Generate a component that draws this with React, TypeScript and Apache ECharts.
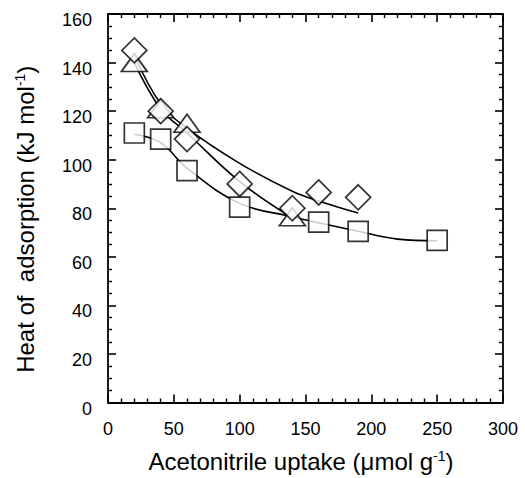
import React, { useEffect, useRef } from "react";
import * as echarts from "echarts";

// Measured points
const diamondX = [20, 40, 60, 100, 140, 160, 190];
const diamondY = [145, 120, 108.5, 90, 80, 86.5, 84.5];
const triangleX = [20, 40, 60, 140];
const triangleY = [140, 121, 115, 76.5];
const squareX = [20, 40, 60, 100, 160, 190, 250];
const squareY = [111, 108.5, 95.5, 80.5, 74.3, 70.5, 66.8];

// Fitted curves
const diamondFitX = [20, 40, 60, 100, 140, 160, 190];
const diamondFitY = [143, 123, 113, 98.5, 87, 83, 78];
const triangleFitX = [20, 40, 60, 100, 140];
const triangleFitY = [140, 121, 111, 91, 76];
const squareFitX = [20, 40, 60, 100, 140, 160, 190, 220, 250];
const squareFitY = [110.5, 107, 96.5, 82, 76.5, 74, 70.5, 67.3, 66.6];

const xTicks = [0, 50, 100, 150, 200, 250, 300];
const yTicks = [0, 20, 40, 60, 80, 100, 120, 140, 160];

const zip = (xs: number[], ys: number[]) => xs.map((x, i) => [x, ys[i]]);

const FONT = "Liberation Sans";

export default function App() {
  const ref = useRef<HTMLDivElement>(null);
  useEffect(() => {
    if (!ref.current) return;
    const chart = echarts.init(ref.current, null, { renderer: "svg" });
    const axisLine = { show: true, onZero: false, lineStyle: { color: "#000", width: 1.8 } };
    const tick = { show: true, inside: true, length: 8, lineStyle: { color: "#000", width: 1.6 } };
    const minor = { show: true, length: 4, lineStyle: { color: "#000", width: 1.4 } };
    const lineStyle = { color: "#000", width: 1.6 };
    const markerStyle = { color: "#fff", borderColor: "#000", borderWidth: 1.7 };
    const sup = { fontFamily: FONT, fontSize: 14, verticalAlign: "top", padding: [0, 0, 11, 0] };
    chart.setOption({
      animation: false,
      backgroundColor: "#fff",
      grid: { left: 108, top: 14, right: 22, bottom: 74 },
      xAxis: [
        {
          type: "value",
          min: xTicks[0],
          max: xTicks[xTicks.length - 1],
          interval: 50,
          axisLine,
          axisTick: tick,
          minorTick: { ...minor, splitNumber: 5 },
          splitLine: { show: false },
          axisLabel: { color: "#000", fontFamily: FONT, fontSize: 18, margin: 17 },
          name: "Acetonitrile uptake (\u03bcmol g{sup|-1})",
          nameLocation: "middle",
          nameGap: 46,
          nameTextStyle: { color: "#000", fontFamily: FONT, fontSize: 24, padding: [0, 9, 0, 0], rich: { sup } },
        },
        {
          type: "value",
          position: "top",
          min: xTicks[0],
          max: xTicks[xTicks.length - 1],
          interval: 50,
          axisLine,
          axisTick: tick,
          minorTick: { ...minor, splitNumber: 5 },
          splitLine: { show: false },
          axisLabel: { show: false },
        },
      ],
      yAxis: [
        {
          type: "value",
          min: yTicks[0],
          max: yTicks[yTicks.length - 1],
          interval: 20,
          axisLine,
          axisTick: tick,
          minorTick: { ...minor, splitNumber: 4 },
          splitLine: { show: false },
          axisLabel: { color: "#000", fontFamily: FONT, fontSize: 18, margin: 16, verticalAlign: "top", lineHeight: 12 },
          name: "Heat of  adsorption (kJ mol{sup|-1})",
          nameLocation: "middle",
          nameGap: 70,
          nameRotate: 90,
          nameTextStyle: { color: "#000", fontFamily: FONT, fontSize: 24, padding: [0, 22, 0, 0], rich: { sup } },
        },
        {
          type: "value",
          position: "right",
          min: yTicks[0],
          max: yTicks[yTicks.length - 1],
          interval: 20,
          axisLine,
          axisTick: tick,
          minorTick: { ...minor, splitNumber: 4 },
          splitLine: { show: false },
          axisLabel: { show: false },
        },
      ],
      series: [
        { type: "line", data: zip(squareFitX, squareFitY), smooth: 0.4, symbol: "none", lineStyle, z: 1 },
        { type: "line", data: zip(triangleFitX, triangleFitY), smooth: 0.4, symbol: "none", lineStyle, z: 1 },
        { type: "line", data: zip(diamondFitX, diamondFitY), smooth: 0.4, symbol: "none", lineStyle, z: 1 },
        { type: "scatter", data: zip(squareX, squareY), symbol: "rect", symbolSize: 20, itemStyle: markerStyle, z: 3 },
        { type: "scatter", data: zip(triangleX, triangleY), symbol: "triangle", symbolSize: [26, 18], itemStyle: markerStyle, z: 4 },
        { type: "scatter", data: zip(diamondX, diamondY), symbol: "diamond", symbolSize: 25, itemStyle: markerStyle, z: 5 },
      ],
    });
    return () => chart.dispose();
  }, []);
  return <div ref={ref} style={{ position: "absolute", left: 0, top: 0, width: 525, height: 478 }} />;
}
